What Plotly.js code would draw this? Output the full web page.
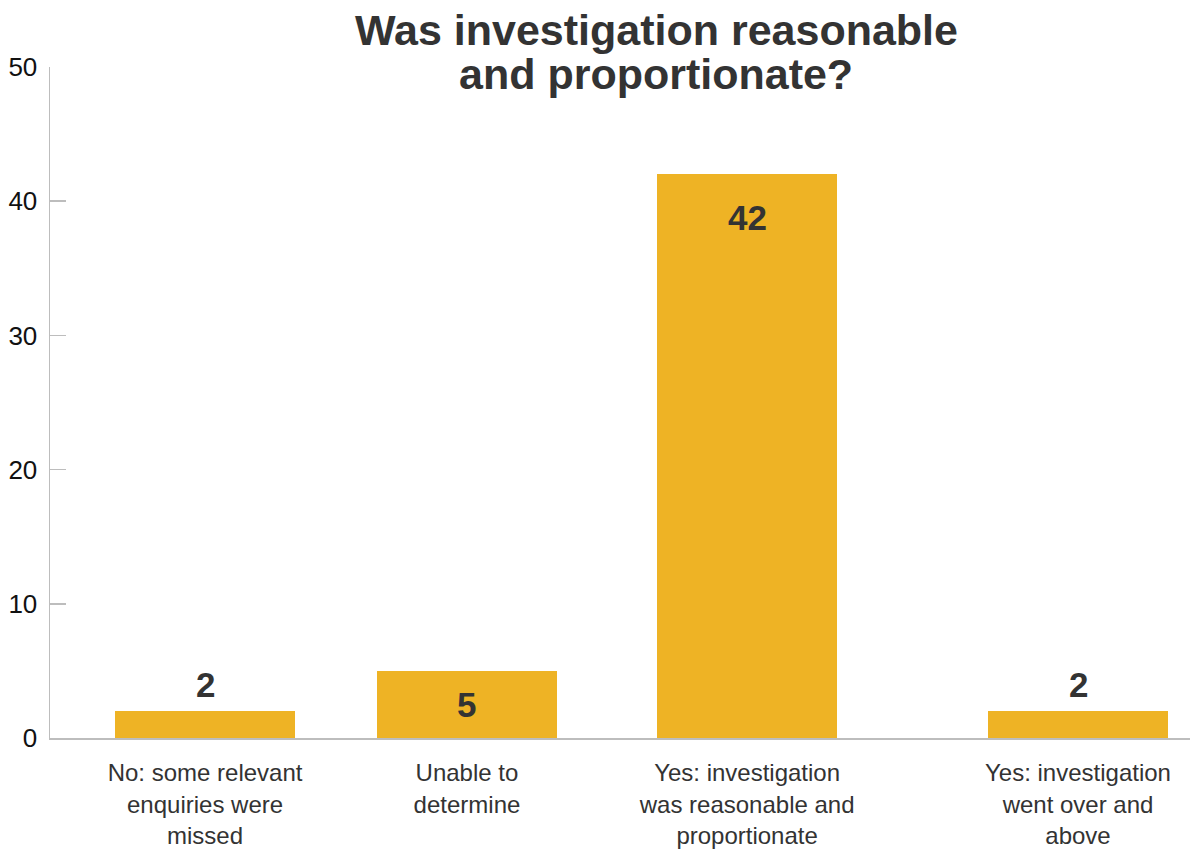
<!DOCTYPE html>
<html>
<head>
<meta charset="utf-8">
<script src="https://cdn.plot.ly/plotly-3.0.1.min.js"></script>
<style>html,body{margin:0;padding:0;background:#fff;}#chart{width:1197px;height:850px;}</style>
</head>
<body>
<div id="chart"></div>
<script>
// Data
const categories = [
  "No: some relevant<br>enquiries were<br>missed",
  "Unable to<br>determine",
  "Yes: investigation<br>was reasonable and<br>proportionate",
  "Yes: investigation<br>went over and<br>above"
];
const values = [2, 5, 42, 2];
const yTicks = [0, 10, 20, 30, 40, 50];
const titleLines = ["Was investigation reasonable", "and proportionate?"];

// Layout-only: bar slot positions along the x axis (unevenly spaced in the original)
const slotPositions = [0.544, 1.463, 2.446, 3.607];
// Layout-only: where each value label sits relative to its bar
const labelPlacement = ["above", "middle", "top-inside", "above"];

const FONT = "Liberation Sans, Arial, Helvetica, sans-serif";
const barColor = "#EEB325";
const textColor = "#333333";

const trace = {
  type: "bar",
  x: slotPositions,
  y: values,
  width: 0.632,
  marker: { color: barColor },
  hoverinfo: "skip",
  showlegend: false
};

const annotations = values.map((v, i) => {
  const p = labelPlacement[i];
  const a = {
    x: slotPositions[i], xref: "x", yref: "y",
    text: String(v), showarrow: false,
    font: { family: FONT, size: 35, color: textColor, weight: "bold" },
    xanchor: "center"
  };
  if (p === "above") { a.y = v; a.yanchor = "bottom"; a.yshift = 5; }
  else if (p === "middle") { a.y = v / 2; a.yanchor = "middle"; }
  else { a.y = v; a.yanchor = "top"; a.yshift = -22; }
  return a;
});

// Second title line (tighter line spacing than Plotly's multi-line titles allow)
annotations.push({
  text: titleLines[1], showarrow: false,
  xref: "paper", x: 0.532, xanchor: "center",
  yref: "paper", y: (738 - 74) / 671, yanchor: "middle",
  font: { family: FONT, size: 43, color: textColor, weight: "bold" }
});

const layout = {
  width: 1197, height: 850,
  margin: { l: 50, r: 7, t: 67, b: 112 },
  paper_bgcolor: "#ffffff", plot_bgcolor: "#ffffff",
  title: {
    text: titleLines[0],
    font: { family: FONT, size: 43, color: textColor, weight: "bold" },
    x: 0.532, xref: "paper", xanchor: "center",
    y: 1 - 30 / 850, yref: "container", yanchor: "middle"
  },
  xaxis: {
    range: [0, 4],
    tickvals: slotPositions,
    ticktext: categories,
    ticks: "",
    showgrid: false, zeroline: false,
    showline: true, linecolor: "#bdbdbd", linewidth: 1.5,
    tickfont: { family: FONT, size: 24, color: textColor },
    ticklabelstandoff: 13,
    fixedrange: true
  },
  yaxis: {
    range: [0, 50],
    tickvals: yTicks,
    ticktext: yTicks.map(String),
    ticks: "inside", ticklen: 16, tickcolor: "#bdbdbd", tickwidth: 1.5,
    showgrid: false, zeroline: false,
    showline: true, linecolor: "#bdbdbd", linewidth: 1.5,
    tickfont: { family: FONT, size: 26, color: "#111111" },
    ticklabelstandoff: 6,
    fixedrange: true
  },
  annotations: annotations,
  bargap: 0
};

Plotly.newPlot("chart", [trace], layout, { displayModeBar: false, staticPlot: true });
</script>
</body>
</html>
